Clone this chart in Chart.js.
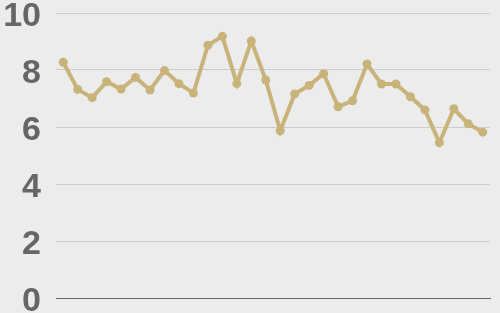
<!DOCTYPE html>
<html>
<head>
<meta charset="utf-8">
<script src="https://cdn.jsdelivr.net/npm/chart.js@4/dist/chart.umd.min.js"></script>
<style>
  html, body { margin: 0; padding: 0; background: #ececec; }
  #wrap { width: 500px; height: 313px; }
</style>
</head>
<body>
<div id="wrap"><canvas id="chart" width="500" height="313"></canvas></div>
<script>
const labels = Array.from({ length: 30 }, (_, i) => String(i + 1));
const values = [8.27, 7.32, 7.03, 7.59, 7.33, 7.74, 7.30, 7.98, 7.52, 7.19,
                8.87, 9.18, 7.52, 9.02, 7.65, 5.87, 7.16, 7.46, 7.87, 6.71,
                6.92, 8.21, 7.51, 7.51, 7.06, 6.60, 5.45, 6.64, 6.11, 5.82];
const yTicks = [0, 2, 4, 6, 8, 10];

const gold = '#c8b47b';

new Chart(document.getElementById('chart'), {
    type: 'line',
    data: {
        labels,
        datasets: [{
            data: values,
            borderColor: gold,
            backgroundColor: gold,
            borderWidth: 4,
            tension: 0,
            pointRadius: 4.5,
            pointBackgroundColor: gold,
            pointBorderWidth: 0
        }]
    },
    options: {
        responsive: false,
        animation: false,
        layout: { padding: { top: 13, bottom: 15, left: 0, right: 10 } },
        plugins: { legend: { display: false }, tooltip: { enabled: false } },
        scales: {
            x: {
                offset: true,
                grid: { display: false, drawTicks: false },
                border: { display: true, color: '#666', width: 1 },
                ticks: { display: false },
                afterFit: s => { s.height = 0; s.paddingLeft = 0; s.paddingRight = 0; }
            },
            y: {
                min: 0,
                max: 10,
                afterBuildTicks: s => { s.ticks = yTicks.map(v => ({ value: v })); },
                grid: { color: '#cccccc', drawTicks: false, lineWidth: 1 },
                border: { display: false },
                ticks: {
                    padding: 15,
                    color: '#666',
                    // empty first line nudges the digits a few px below the grid line
                    callback: v => ['', String(v)],
                    font: { family: 'Liberation Sans, Arial, sans-serif', size: 34, weight: 'bold', lineHeight: '7px' }
                },
                afterFit: s => { s.width = 56; s.paddingTop = 0; s.paddingBottom = 0; }
            }
        }
    }
});
</script>
</body>
</html>
